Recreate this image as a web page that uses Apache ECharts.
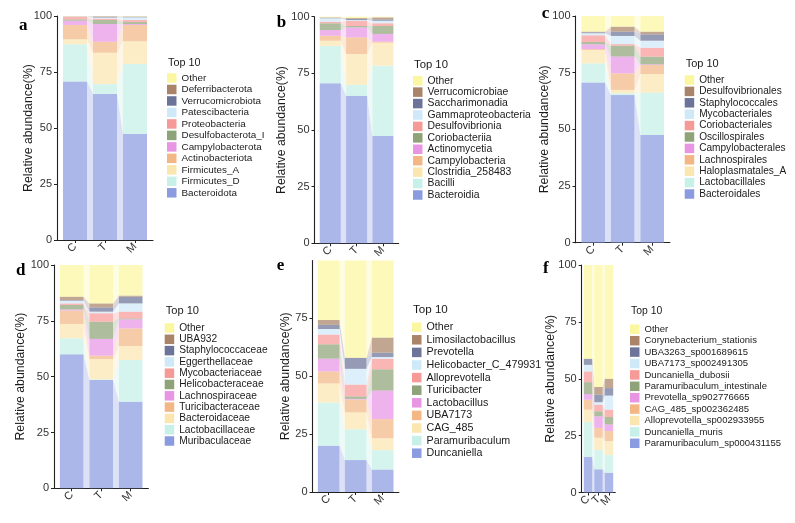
<!DOCTYPE html>
<html><head><meta charset="utf-8">
<script src="https://cdn.jsdelivr.net/npm/echarts@6/dist/echarts.min.js"></script>
<style>html,body{margin:0;padding:0;background:#fff}#c{width:795px;height:523px}</style>
</head><body><div id="c"></div>
<script>
// ---------- data ----------
const groups = ['C', 'T', 'M'];
const yTicks = [0, 25, 50, 75, 100];
const yTicksE = [0, 25, 50, 75];
const legendTitle = 'Top 10';
const yTitle = 'Relative abundance(%)';
// colours, bottom -> top of the stack
const palette = ['#8b9be0', '#c6f0e8', '#fbe6b0', '#f3b786', '#e896e4', '#8ea377', '#f69a98', '#cfe9f8', '#6c7599', '#a98468', '#fbf7a0'];

// a: phylum
const namesA = ['Bacteroidota', 'Firmicutes_D', 'Firmicutes_A', 'Actinobacteriota', 'Campylobacterota', 'Desulfobacterota_I', 'Proteobacteria', 'Patescibacteria', 'Verrucomicrobiota', 'Deferribacterota', 'Other'];
const aC = [70.8, 16.6, 2.2, 6.4, 1.9, 0.6, 1.2, 0.1, 0.05, 0.05, 0.1];
const aT = [65.2, 4.4, 14.0, 4.9, 7.9, 1.8, 0.6, 0.5, 0.4, 0.2, 0.1];
const aM = [47.3, 31.3, 10.1, 7.3, 0.4, 0.9, 0.9, 1.2, 0.3, 0.1, 0.2];
// b: class
const namesB = ['Bacteroidia', 'Bacilli', 'Clostridia_258483', 'Campylobacteria', 'Actinomycetia', 'Coriobacteriia', 'Desulfovibrionia', 'Gammaproteobacteria', 'Saccharimonadia', 'Verrucomicrobiae', 'Other'];
const bC = [70.6, 16.5, 2.3, 2.2, 2.5, 3.0, 0.7, 1.5, 0.2, 0.2, 0.3];
const bT = [65.1, 4.8, 13.6, 7.4, 4.4, 0.6, 2.2, 0.4, 0.5, 0.4, 0.6];
const bM = [47.4, 31.0, 10.1, 0.5, 3.4, 3.5, 1.2, 1.1, 0.6, 0.9, 0.3];
// c: order
const namesC = ['Bacteroidales', 'Lactobacillales', 'Haloplasmatales_A', 'Lachnospirales', 'Campylobacterales', 'Oscillospirales', 'Coriobacteriales', 'Mycobacteriales', 'Staphylococcales', 'Desulfovibrionales', 'Other'];
const cC = [70.7, 8.4, 5.9, 0.4, 2.1, 1.0, 3.0, 0.9, 0.4, 0.3, 6.9];
const cT = [65.1, 0.8, 1.5, 7.3, 7.4, 4.8, 0.7, 3.6, 1.9, 2.2, 4.7];
const cM = [47.5, 18.7, 8.2, 4.0, 0.3, 3.4, 3.9, 3.1, 2.8, 1.2, 6.9];
// d: family
const namesD = ['Muribaculaceae', 'Lactobacillaceae', 'Bacteroidaceae', 'Turicibacteraceae', 'Lachnospiraceae', 'Helicobacteraceae', 'Mycobacteriaceae', 'Eggerthellaceae', 'Staphylococcaceae', 'UBA932', 'Other'];
const dC = [60.0, 7.2, 6.4, 6.0, 0.5, 2.0, 0.7, 1.2, 0.3, 1.5, 14.2];
const dT = [48.5, 0.3, 9.1, 1.5, 7.5, 7.7, 3.8, 0.7, 1.9, 1.8, 17.2];
const dM = [38.8, 18.7, 6.2, 7.9, 4.1, 0.4, 3.0, 3.7, 3.0, 0.5, 13.7];
// e: genus
const namesE = ['Duncaniella', 'Paramuribaculum', 'CAG_485', 'UBA7173', 'Lactobacillus', 'Turicibacter', 'Alloprevotella', 'Helicobacter_C_479931', 'Prevotella', 'Limosilactobacillus', 'Other'];
const eC = [20.0, 18.7, 8.2, 5.2, 5.5, 6.2, 4.2, 2.4, 1.8, 2.1, 25.7];
const eT = [13.8, 13.3, 7.3, 5.5, 0.3, 1.1, 5.1, 6.8, 4.7, 0.1, 42.0];
const eM = [9.7, 8.4, 5.1, 8.3, 12.3, 9.2, 4.6, 0.7, 1.9, 6.5, 33.3];
// f: species
const namesF = ['Paramuribaculum_sp000431155', 'Duncaniella_muris', 'Alloprevotella_sp002933955', 'CAG_485_sp002362485', 'Prevotella_sp902776665', 'Paramuribaculum_intestinale', 'Duncaniella_dubosii', 'UBA7173_sp002491305', 'UBA3263_sp001689615', 'Corynebacterium_stationis', 'Other'];
const fC = [15.7, 15.3, 5.4, 4.4, 2.5, 5.2, 4.7, 2.9, 2.6, 0.1, 41.2];
const fT = [10.2, 8.5, 5.4, 4.3, 5.1, 2.2, 2.9, 1.1, 3.3, 3.4, 53.6];
const fM = [8.7, 7.8, 6.1, 4.4, 2.9, 3.3, 3.2, 6.2, 3.3, 4.1, 50.0];

const panelData = [
  {letter: 'a', names: namesA, vals: [aC, aT, aM], ticks: yTicks},
  {letter: 'b', names: namesB, vals: [bC, bT, bM], ticks: yTicks},
  {letter: 'c', names: namesC, vals: [cC, cT, cM], ticks: yTicks},
  {letter: 'd', names: namesD, vals: [dC, dT, dM], ticks: yTicks},
  {letter: 'e', names: namesE, vals: [eC, eT, eM], ticks: yTicksE},
  {letter: 'f', names: namesF, vals: [fC, fT, fM], ticks: yTicks}
];

// ---------- layout (pixels) ----------
// split: the narrow panel's x labels are spread over two axes so none of them gets hidden
const layout = [
  {axis: 57,    unit: 30,   top: 16,    bottom: 240,   legL: 167,   legY: 78,    sp: 11.48, fs: 9.9,  ng: 22.5, split: false, ttl: [168, 63.3],   lt: [19, 26]},
  {axis: 314.5, unit: 26.3, top: 16.7,  bottom: 243.3, legL: 413,   legY: 80.7,  sp: 11.43, fs: 10.4, ng: 26.5, split: false, ttl: [414, 65],     lt: [276.7, 23.6]},
  {axis: 575.5, unit: 29.5, top: 16,    bottom: 242.7, legL: 684.7, legY: 80,    sp: 11.4,  fs: 10.1, ng: 24.5, split: false, ttl: [685.7, 64],   lt: [541.7, 13.8]},
  {axis: 54,    unit: 29.5, top: 265,   bottom: 488.3, legL: 164.7, legY: 328,   sp: 11.3,  fs: 10.2, ng: 27,   split: false, ttl: [165.7, 311.7],lt: [16, 271]},
  {axis: 312.5, unit: 27,   top: 260.5, bottom: 492,   legL: 412,   legY: 326.7, sp: 11.6,  fs: 10.7, ng: 20.5, split: false, ttl: [413, 310],    lt: [276.7, 266]},
  {axis: 581.7, unit: 10.5, top: 265,   bottom: 492.5, legL: 630,   legY: 329.3, sp: 11.4,  fs: 9.5,  ng: 24.7, split: true,  ttl: [631, 311.7],  lt: [543, 269.3]}
];

const FONT = 'Liberation Sans, Arial, Helvetica, sans-serif';
const axisColor = '#222';
const grid = [], xAxis = [], yAxis = [], series = [], legend = [], graphic = [], extraX = [];
const pos = [1, 2, 3];
const xLabelStyle = {formatter: v => groups[Math.round(v) - 1] || '', rotate: 45,
  hideOverlap: false, showMinLabel: true, showMaxLabel: true,
  fontSize: 11, color: '#333', margin: 5, fontFamily: FONT};

panelData.forEach((pd, p) => {
  const L = layout[p];
  grid.push({left: L.axis, top: L.top, width: 3.2 * L.unit, height: L.bottom - L.top, containLabel: false});
  xAxis.push({
    type: 'value', gridIndex: p, min: 0.4, max: 3.6, position: 'bottom',
    axisLine: {show: true, onZero: false, lineStyle: {color: axisColor, width: 1.1}},
    axisTick: {show: true, length: 3, customValues: pos, lineStyle: {color: axisColor}},
    axisLabel: Object.assign({customValues: L.split ? [pos[0], pos[2]] : pos}, xLabelStyle),
    splitLine: {show: false}
  });
  if (L.split) {
    extraX.push({
      type: 'value', gridIndex: p, min: 0.4, max: 3.6, position: 'bottom', offset: 0,
      axisLine: {show: false}, axisTick: {show: false}, splitLine: {show: false},
      axisLabel: Object.assign({customValues: [pos[1]]}, xLabelStyle)
    });
  }
  yAxis.push({
    type: 'value', gridIndex: p, min: 0, max: 100,
    axisLine: {show: true, onZero: false, lineStyle: {color: axisColor, width: 1.1}},
    axisTick: {show: true, length: 3, customValues: pd.ticks, lineStyle: {color: axisColor}},
    axisLabel: {customValues: pd.ticks, showMinLabel: true, showMaxLabel: true,
      fontSize: 11, color: '#333', margin: 5, fontFamily: FONT},
    splitLine: {show: false},
    name: yTitle, nameLocation: 'middle', nameGap: L.ng, nameMoveOverlap: false,
    nameTextStyle: {fontSize: 12.3, color: '#1a1a1a', fontFamily: FONT}
  });
  const bw = 0.8 * L.unit;
  pd.names.forEach((nm, k) => {
    series.push({
      type: 'bar', name: nm, xAxisIndex: p, yAxisIndex: p, stack: 'p' + p,
      barWidth: bw, animation: false, silent: true,
      itemStyle: {color: palette[k], opacity: 0.72},
      // [value, position]: value first so that the stack is computed on it
      encode: {x: 1, y: 0},
      data: groups.map((g, gi) => [pd.vals[gi][k], pos[gi]])
    });
  });
  // flows between adjacent bars
  const flows = [];
  const cum = pd.vals.map(arr => { let s = 0; return arr.map(v => { const b = s; s += v; return [b, s]; }); });
  pd.names.forEach((nm, k) => {
    for (let j = 0; j < groups.length - 1; j++) {
      flows.push([pos[j], pos[j + 1], cum[j][k][0], cum[j][k][1], cum[j + 1][k][0], cum[j + 1][k][1], k]);
    }
  });
  series.push({
    type: 'custom', xAxisIndex: p, yAxisIndex: p, animation: false, silent: true, z: 1,
    data: flows,
    encode: {x: [0, 1], y: [2, 3, 4, 5]},
    renderItem: (params, api) => {
      const x0 = api.value(0), x1 = api.value(1);
      const a0 = api.coord([x0, api.value(2)]), a1 = api.coord([x0, api.value(3)]);
      const b0 = api.coord([x1, api.value(4)]), b1 = api.coord([x1, api.value(5)]);
      const hw = api.coord([x0 + 0.4, 0])[0] - api.coord([x0, 0])[0];
      return {
        type: 'polygon',
        shape: {points: [[a0[0] + hw, a0[1]], [a1[0] + hw, a1[1]], [b1[0] - hw, b1[1]], [b0[0] - hw, b0[1]]]},
        style: {fill: palette[api.value(6)], opacity: 0.3}
      };
    }
  });
  legend.push({
    orient: 'vertical', left: L.legL, top: L.legY - 5, padding: 0,
    itemWidth: 9.5, itemHeight: 9.5, itemGap: L.sp - 10, icon: 'rect', selectedMode: false,
    textStyle: {fontSize: L.fs, lineHeight: 10, color: '#1a1a1a', fontFamily: FONT},
    data: pd.names.map((nm, k) => ({name: nm, itemStyle: {color: palette[k], opacity: 1, borderWidth: 0}})).reverse()
  });
  graphic.push({type: 'text', left: L.ttl[0], top: L.ttl[1] - 6,
    style: {text: legendTitle, fontSize: L.fs + 0.9, fill: '#1a1a1a', fontFamily: FONT}});
  graphic.push({type: 'text', left: L.lt[0], top: L.lt[1] - 9,
    style: {text: pd.letter, fontSize: 17, fontWeight: 'bold', fill: '#000', fontFamily: 'Liberation Serif, Times New Roman, serif'}});
});
extraX.forEach(a => xAxis.push(a));

const chart = echarts.init(document.getElementById('c'), null, {renderer: 'canvas'});
chart.setOption({
  animation: false,
  backgroundColor: '#fff',
  textStyle: {fontFamily: FONT},
  grid, xAxis, yAxis, series, legend, graphic
});
</script></body></html>
